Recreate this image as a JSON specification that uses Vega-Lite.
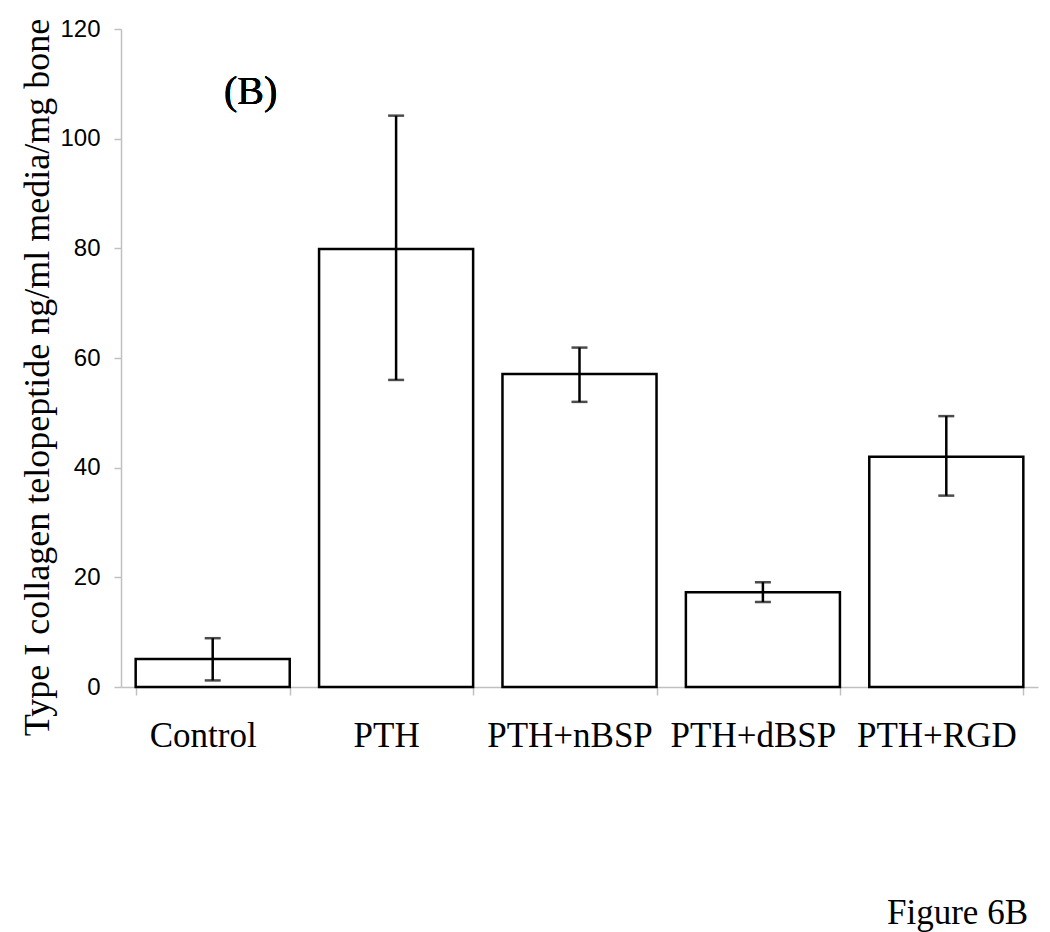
{
  "$schema": "https://vega.github.io/schema/vega-lite/v6.json",
  "width": 917,
  "height": 658,
  "autosize": {"type": "none"},
  "padding": {"left": 121, "top": 29, "right": 12, "bottom": 245},
  "background": "white",
  "config": {"view": {"stroke": null}},
  "title": {
    "text": "Figure 6B",
    "orient": "bottom",
    "anchor": "end",
    "font": "Liberation Serif",
    "fontSize": 35,
    "fontWeight": "normal",
    "color": "black",
    "offset": 143,
    "dx": -10
  },
  "data": {
    "values": [
      {"group": "Control", "mean": 5.1, "lower": 1.2, "upper": 8.9},
      {"group": "PTH", "mean": 79.9, "lower": 56.0, "upper": 104.2},
      {"group": "PTH+nBSP", "mean": 57.1, "lower": 52.0, "upper": 61.9},
      {"group": "PTH+dBSP", "mean": 17.3, "lower": 15.5, "upper": 19.1},
      {"group": "PTH+RGD", "mean": 42.0, "lower": 34.9, "upper": 49.4}
    ]
  },
  "encoding": {
    "x": {
      "field": "group",
      "type": "nominal",
      "sort": null,
      "scale": {"paddingInner": 0.16, "paddingOuter": 0.08},
      "axis": {
        "title": null,
        "labelAngle": 0,
        "labelFont": "Liberation Serif",
        "labelFontSize": 35,
        "labelColor": "black",
        "labelBaseline": "alphabetic",
        "labelPadding": 51,
        "labelOffset": -10,
        "tickBand": "extent",
        "tickSize": 8,
        "tickColor": "#c0c0c0",
        "domainColor": "#c0c0c0",
        "domainWidth": 1.5,
        "tickWidth": 1.5
      }
    }
  },
  "layer": [
    {
      "mark": {"type": "bar", "fill": "white", "stroke": "black", "strokeWidth": 2.5},
      "encoding": {
        "y": {
          "field": "mean",
          "type": "quantitative",
          "scale": {"domain": [0, 120], "nice": false},
          "axis": {
            "values": [0, 20, 40, 60, 80, 100, 120],
            "grid": false,
            "title": "Type I collagen telopeptide  ng/ml media/mg bone",
            "titleFont": "Liberation Serif",
            "titleFontSize": 36,
            "titleFontWeight": "normal",
            "titleColor": "black",
            "titleAngle": 270,
            "titleAlign": "center",
            "titleBaseline": "alphabetic",
            "titleX": -73,
            "titleY": 348,
            "labelFont": "Liberation Sans",
            "labelFontSize": 24,
            "labelColor": "black",
            "labelPadding": 14,
            "tickSize": 7,
            "tickColor": "#c0c0c0",
            "domainColor": "#c0c0c0",
            "domainWidth": 1.5,
            "tickWidth": 1.5
          }
        }
      }
    },
    {
      "mark": {"type": "rule", "color": "black", "strokeWidth": 2.5},
      "encoding": {
        "y": {"field": "lower", "type": "quantitative"},
        "y2": {"field": "upper"}
      }
    },
    {
      "mark": {"type": "tick", "color": "black", "size": 16, "thickness": 2.5, "orient": "horizontal"},
      "encoding": {"y": {"field": "lower", "type": "quantitative"}}
    },
    {
      "mark": {"type": "tick", "color": "black", "size": 16, "thickness": 2.5, "orient": "horizontal"},
      "encoding": {"y": {"field": "upper", "type": "quantitative"}}
    },
    {
      "mark": {"type": "text", "font": "Liberation Serif", "fontSize": 40, "fontWeight": "normal", "color": "black", "dx": 38, "baseline": "middle"},
      "encoding": {
        "x": {"datum": "Control"},
        "y": {"datum": 108.5},
        "text": {"value": "(B)"}
      }
    }
  ]
}
